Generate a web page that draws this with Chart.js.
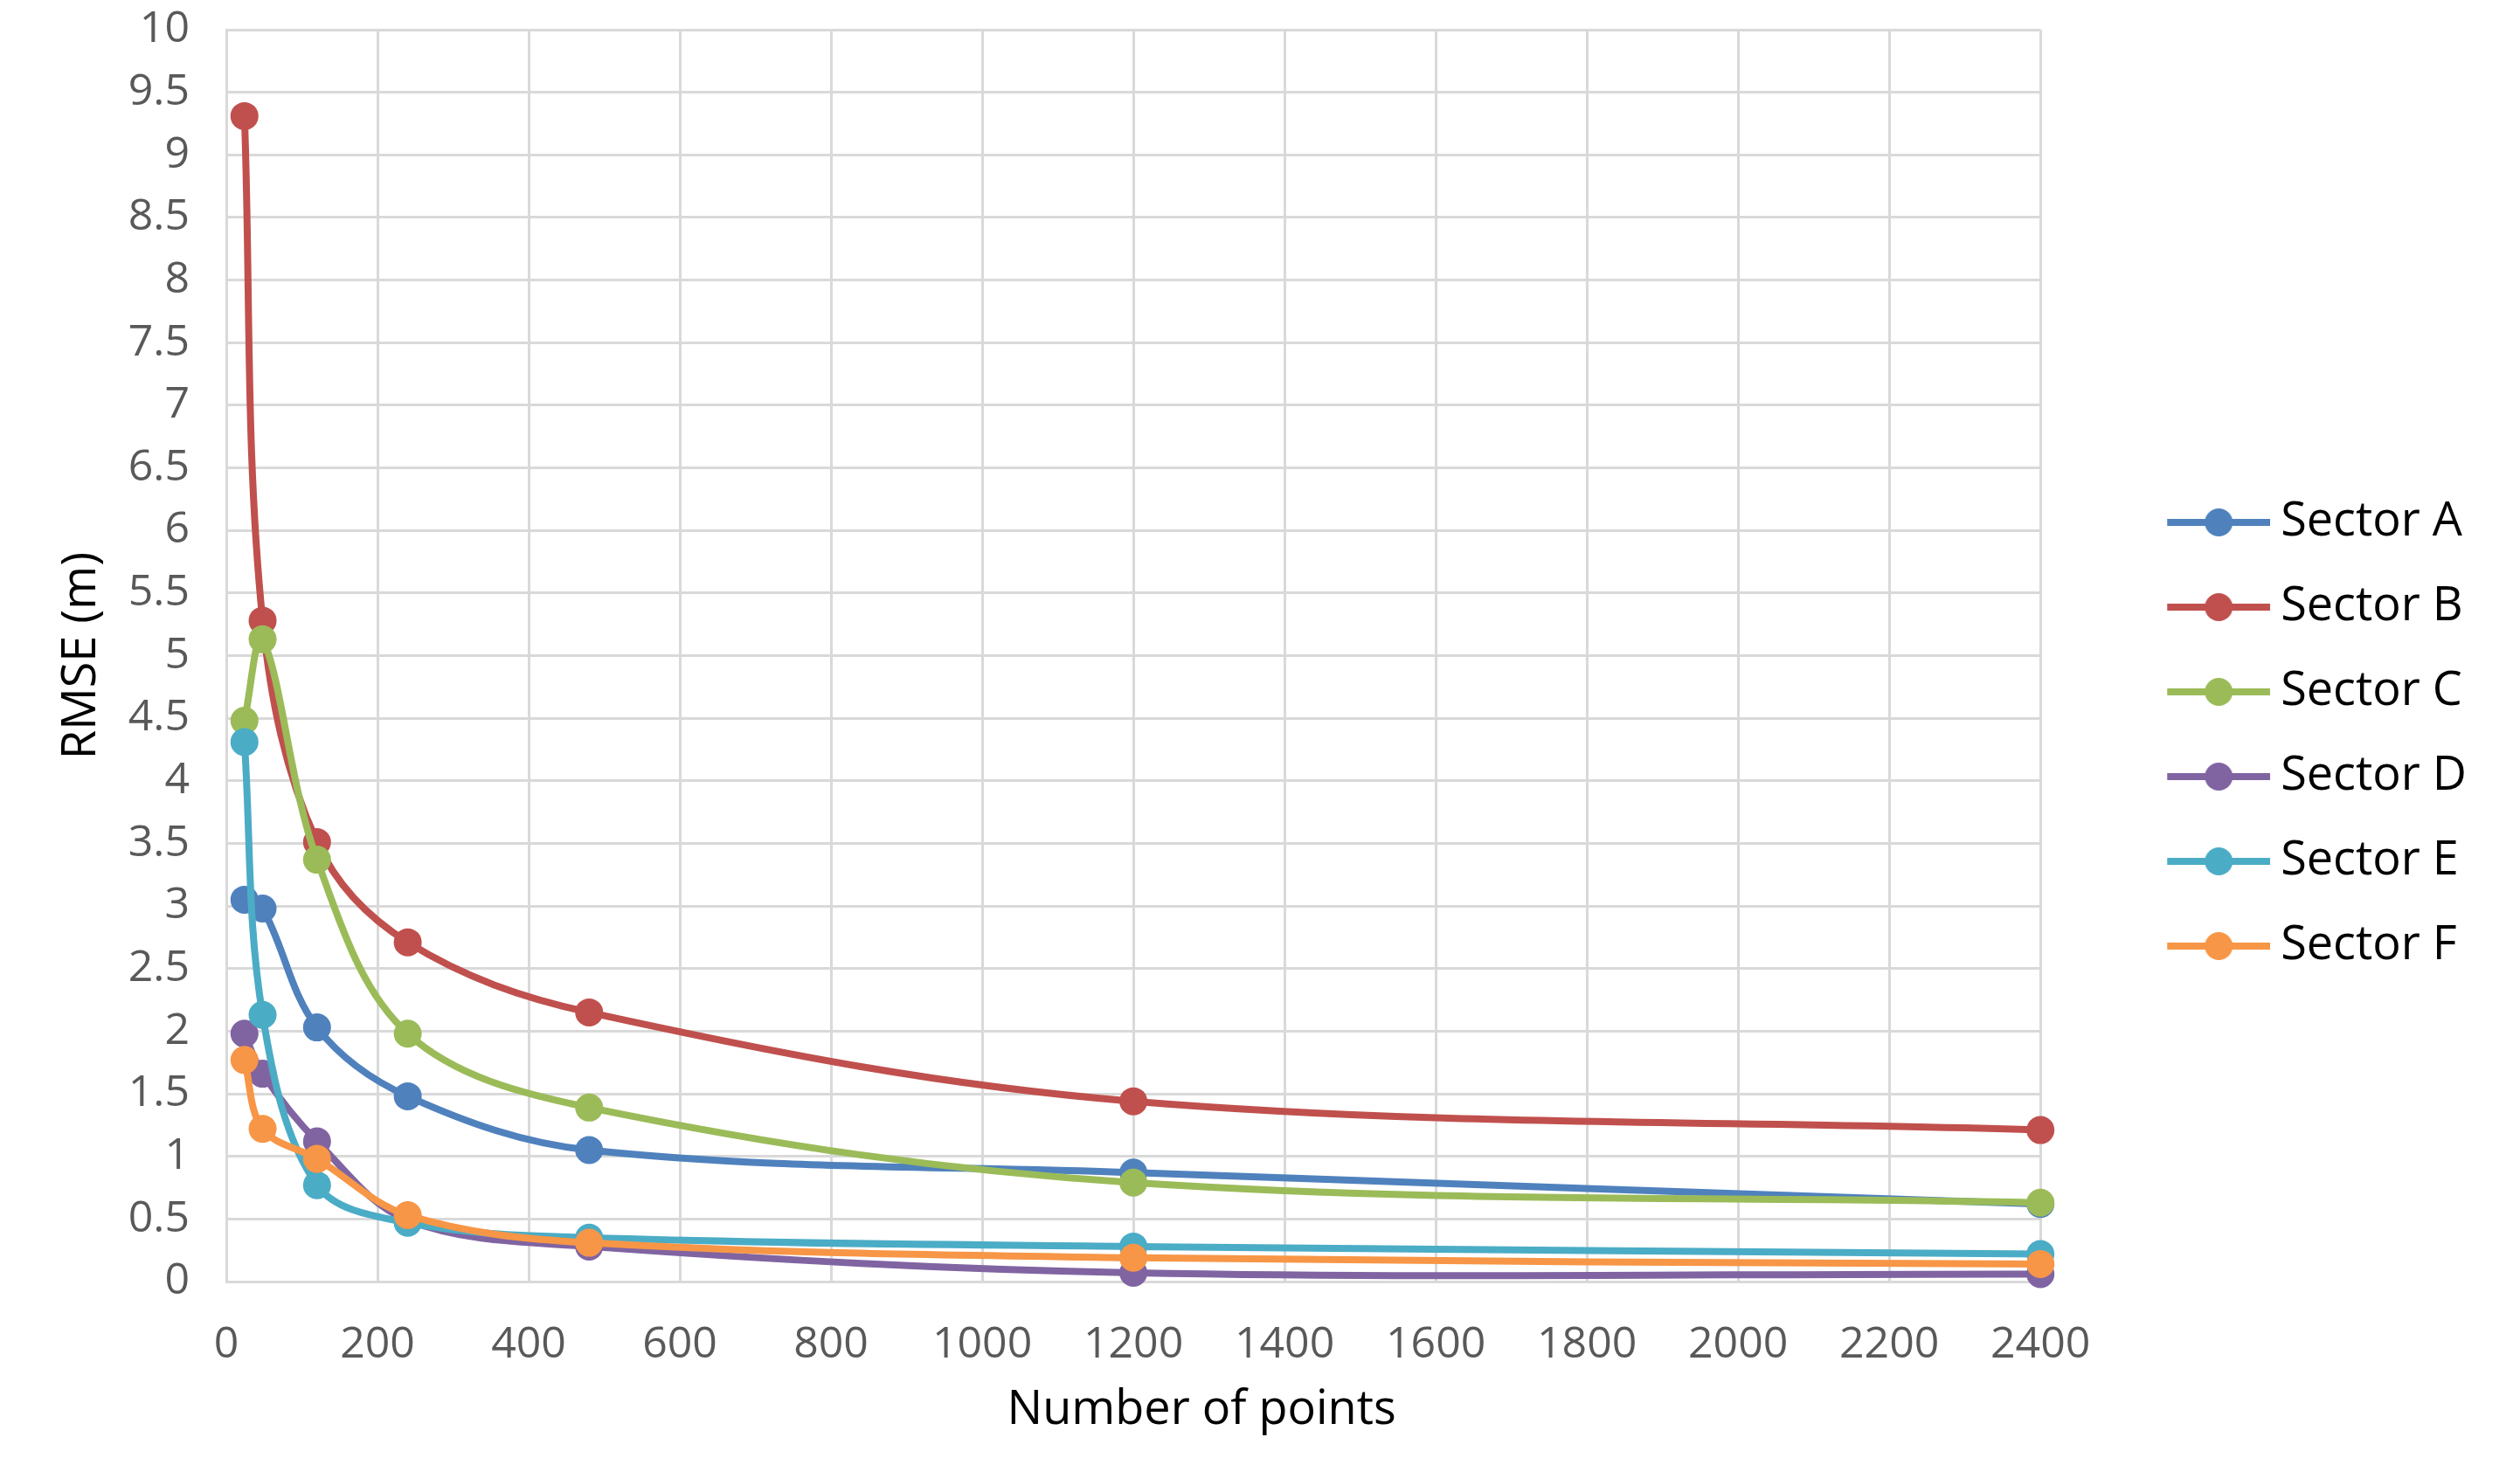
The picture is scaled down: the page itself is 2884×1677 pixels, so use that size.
<!DOCTYPE html>
<html>
<head>
<meta charset="utf-8">
<title>RMSE vs number of points</title>
<script src="https://cdn.jsdelivr.net/npm/chart.js@4.4.0/dist/chart.umd.min.js"></script>
<style>
  html, body { margin: 0; padding: 0; background: #fff; }
  #wrap { width: 2884px; height: 1677px; position: relative; }
</style>
</head>
<body>
<div id="wrap"><canvas id="rmseChart"></canvas></div>
<script>
// number of points used (x axis)
const nPoints = [24, 48, 120, 240, 480, 1200, 2400];

// RMSE (m) for each sector
const sectorA = [3.05, 2.98, 2.03, 1.48, 1.05, 0.87, 0.62];
const sectorB = [9.31, 5.28, 3.51, 2.71, 2.15, 1.44, 1.21];
const sectorC = [4.48, 5.13, 3.37, 1.98, 1.39, 0.79, 0.63];
const sectorD = [1.98, 1.66, 1.12, 0.49, 0.28, 0.07, 0.06];
const sectorE = [4.31, 2.13, 0.77, 0.47, 0.35, 0.28, 0.22];
const sectorF = [1.77, 1.22, 0.98, 0.53, 0.31, 0.19, 0.14];

const sectorNames = ["Sector A", "Sector B", "Sector C", "Sector D", "Sector E", "Sector F"];
const sectorValues = [sectorA, sectorB, sectorC, sectorD, sectorE, sectorF];
const sectorColors = ["#4F81BD", "#C0504D", "#9BBB59", "#8064A2", "#4BACC6", "#F79646"];

const xTitle = "Number of points";
const yTitle = "RMSE (m)";

const FONT = "'Open Sans', 'Noto Sans', sans-serif";

// legend symbol: a short line with a dot, with empty room on the left
// so the legend sits away from the plot like in the original
const ICON_BOX = 205;   // pointStyleWidth
const ICON_W = 235;     // real canvas width (centered on the box)
function legendIcon(color) {
    const c = document.createElement("canvas");
    c.width = ICON_W;
    c.height = 36;
    const g = c.getContext("2d");
    const x0 = ICON_W - 118;
    g.strokeStyle = color;
    g.lineWidth = 8;
    g.beginPath();
    g.moveTo(x0, 18);
    g.lineTo(ICON_W, 18);
    g.stroke();
    g.fillStyle = color;
    g.beginPath();
    g.arc(x0 + 59, 18, 16, 0, Math.PI * 2);
    g.fill();
    return c;
}

// x axis title sits a bit right of the plot centre in the original
const xTitlePlugin = {
    id: "xTitle",
    afterDraw(chart) {
        const a = chart.chartArea;
        const g = chart.ctx;
        g.save();
        g.font = "54px " + FONT;
        g.fillStyle = "#000";
        g.textAlign = "center";
        g.textBaseline = "middle";
        g.fillText(xTitle, (a.left + a.right) / 2 + 78, 1615);
        g.restore();
    }
};

const datasets = sectorNames.map((name, i) => ({
    label: name,
    data: nPoints.map((x, j) => ({ x: x, y: sectorValues[i][j] })),
    borderColor: sectorColors[i],
    backgroundColor: sectorColors[i],
    borderWidth: 8,
    pointRadius: 16,
    pointHoverRadius: 16,
    pointBorderWidth: 0,
    tension: 0.35,
    clip: false,
    order: sectorNames.length - i // later series on top, as in the original
}));

const ctx = document.getElementById("rmseChart").getContext("2d");
const rmseChart = new Chart(ctx, {
    type: "line",
    data: { datasets: datasets },
    plugins: [xTitlePlugin],
    options: {
        responsive: true,
        maintainAspectRatio: false,
        animation: false,
        layout: { padding: { left: 61, right: 51, top: 34, bottom: 30 } },
        plugins: {
            tooltip: { enabled: false },
            legend: {
                position: "right",
                labels: {
                    usePointStyle: true,
                    pointStyleWidth: ICON_BOX,
                    padding: 43,
                    color: "#000",
                    font: { family: FONT, size: 54 },
                    sort: (a, b) => a.datasetIndex - b.datasetIndex,
                    generateLabels: function (chart) {
                        const items = Chart.defaults.plugins.legend.labels.generateLabels(chart);
                        items.forEach((it) => {
                            it.pointStyle = legendIcon(sectorColors[it.datasetIndex]);
                        });
                        return items;
                    }
                }
            }
        },
        scales: {
            x: {
                type: "linear",
                min: 0,
                max: 2400,
                afterFit: (scale) => { scale.height = 180; },
                grid: { color: "#d9d9d9", lineWidth: 3, drawTicks: false },
                border: { color: "#d9d9d9", width: 3 },
                ticks: {
                    stepSize: 200,
                    padding: 43,
                    color: "#595959",
                    font: { family: FONT, size: 50 },
                    maxRotation: 0,
                    callback: (v) => String(v)
                },
                title: { display: false, text: xTitle }
            },
            y: {
                min: 0,
                max: 10,
                afterFit: (scale) => {
                    scale.width = 198;
                    scale.paddingTop = 0;
                    scale.paddingBottom = 0;
                },
                grid: { color: "#d9d9d9", lineWidth: 3, drawTicks: false },
                border: { color: "#d9d9d9", width: 3 },
                ticks: {
                    stepSize: 0.5,
                    padding: 42,
                    color: "#595959",
                    font: { family: FONT, size: 50 },
                    callback: (v) => String(v)
                },
                title: {
                    display: true,
                    text: yTitle,
                    color: "#000",
                    font: { family: FONT, size: 54 },
                    padding: { top: 0, bottom: 0 }
                }
            }
        }
    }
});
</script>
</body>
</html>
